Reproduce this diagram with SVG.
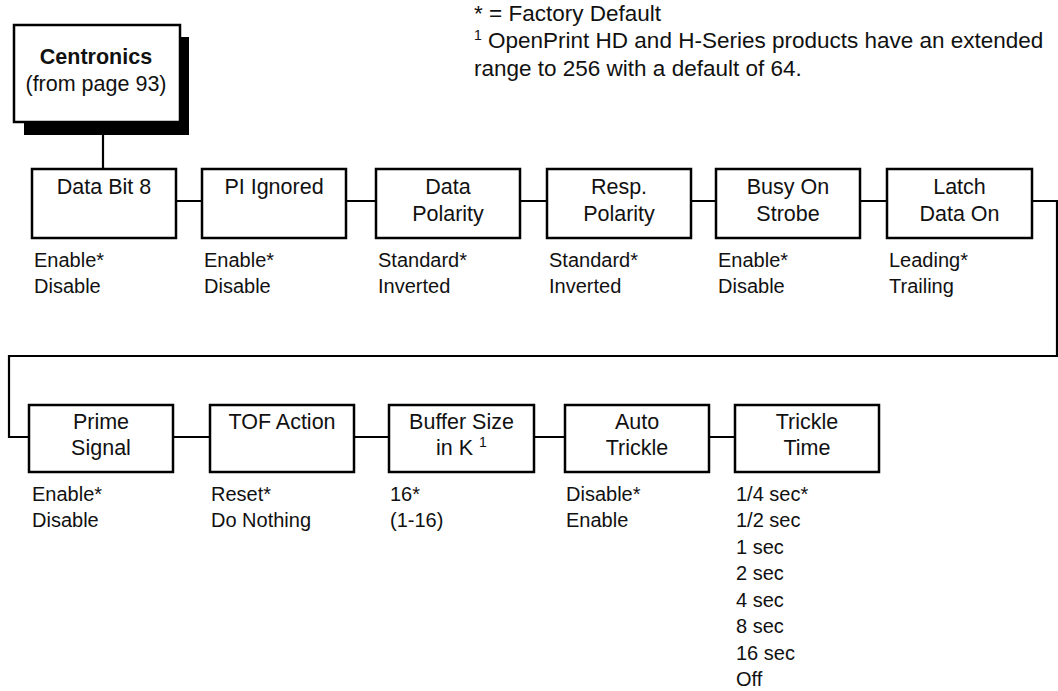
<svg xmlns="http://www.w3.org/2000/svg" width="1058" height="691" viewBox="0 0 1058 691">
<style>
text{font-family:"Liberation Sans",Arial,Helvetica,sans-serif;font-size:20px;fill:#111}
.box{fill:#fff;stroke:#000;stroke-width:2.5}
.c{text-anchor:middle;font-size:21.5px}
.b{font-weight:bold}
.hd{font-size:22.5px}
.ln{fill:none;stroke:#000;stroke-width:2.2}
</style>
<rect width="1058" height="691" fill="#fff"/>
<g id="notes">
<text class="hd" x="474" y="21">* = Factory Default</text>
<text class="hd" x="474" y="48"><tspan font-size="14" dy="-8">1</tspan><tspan dy="8"> OpenPrint HD and H-Series products have an extended</tspan></text>
<text class="hd" x="474" y="76">range to 256 with a default of 64.</text>
</g>
<g id="connectors">
<path class="ln" d="M103,135V169"/>
<path class="ln" d="M176,201H202M346,201H376M520,201H547M691,201H716M860,201H887"/>
<path class="ln" d="M1032,201H1057V356H9V437H29"/>
<path class="ln" d="M173,437H210M354,437H389M534,437H565M709,437H735"/>
</g>
<g id="centronics">
<rect x="24" y="37" width="165" height="98" fill="#000"/>
<rect class="box" x="14" y="25" width="166" height="97"/>
<text class="c b" x="96" y="64">Centronics</text>
<text class="c" x="96" y="91">(from page 93)</text>
</g>
<g id="databit8">
<rect class="box" x="32" y="169" width="144" height="69"/>
<text class="c" x="104" y="194">Data Bit 8</text>
<text x="34" y="267">Enable*</text>
<text x="34" y="293">Disable</text>
</g>
<g id="piignored">
<rect class="box" x="202" y="169" width="144" height="69"/>
<text class="c" x="274" y="194">PI Ignored</text>
<text x="204" y="267">Enable*</text>
<text x="204" y="293">Disable</text>
</g>
<g id="datapolarity">
<rect class="box" x="376" y="169" width="144" height="69"/>
<text class="c" x="448" y="194">Data</text>
<text class="c" x="448" y="221">Polarity</text>
<text x="378" y="267">Standard*</text>
<text x="378" y="293">Inverted</text>
</g>
<g id="resppolarity">
<rect class="box" x="547" y="169" width="144" height="69"/>
<text class="c" x="619" y="194">Resp.</text>
<text class="c" x="619" y="221">Polarity</text>
<text x="549" y="267">Standard*</text>
<text x="549" y="293">Inverted</text>
</g>
<g id="busyonstrobe">
<rect class="box" x="716" y="169" width="144" height="69"/>
<text class="c" x="788" y="194">Busy On</text>
<text class="c" x="788" y="221">Strobe</text>
<text x="718" y="267">Enable*</text>
<text x="718" y="293">Disable</text>
</g>
<g id="latchdataon">
<rect class="box" x="887" y="169" width="145" height="69"/>
<text class="c" x="959.5" y="194">Latch</text>
<text class="c" x="959.5" y="221">Data On</text>
<text x="889" y="267">Leading*</text>
<text x="889" y="293">Trailing</text>
</g>
<g id="primesignal">
<rect class="box" x="29" y="405" width="144" height="67"/>
<text class="c" x="101" y="429">Prime</text>
<text class="c" x="101" y="455">Signal</text>
<text x="32" y="501">Enable*</text>
<text x="32" y="527">Disable</text>
</g>
<g id="tofaction">
<rect class="box" x="210" y="405" width="144" height="67"/>
<text class="c" x="282" y="429">TOF Action</text>
<text x="211" y="501">Reset*</text>
<text x="211" y="527">Do Nothing</text>
</g>
<g id="buffersize">
<rect class="box" x="389" y="405" width="145" height="67"/>
<text class="c" x="461.5" y="429">Buffer Size</text>
<text class="c" x="461.5" y="455">in K <tspan font-size="14" dy="-8">1</tspan></text>
<text x="390" y="501">16*</text>
<text x="390" y="527">(1-16)</text>
</g>
<g id="autotrickle">
<rect class="box" x="565" y="405" width="144" height="67"/>
<text class="c" x="637" y="429">Auto</text>
<text class="c" x="637" y="455">Trickle</text>
<text x="566" y="501">Disable*</text>
<text x="566" y="527">Enable</text>
</g>
<g id="trickletime">
<rect class="box" x="735" y="405" width="144" height="67"/>
<text class="c" x="807" y="429">Trickle</text>
<text class="c" x="807" y="455">Time</text>
<text x="736" y="501">1/4 sec*</text>
<text x="736" y="527">1/2 sec</text>
<text x="736" y="554">1 sec</text>
<text x="736" y="580">2 sec</text>
<text x="736" y="607">4 sec</text>
<text x="736" y="633">8 sec</text>
<text x="736" y="660">16 sec</text>
<text x="736" y="686">Off</text>
</g>
</svg>
